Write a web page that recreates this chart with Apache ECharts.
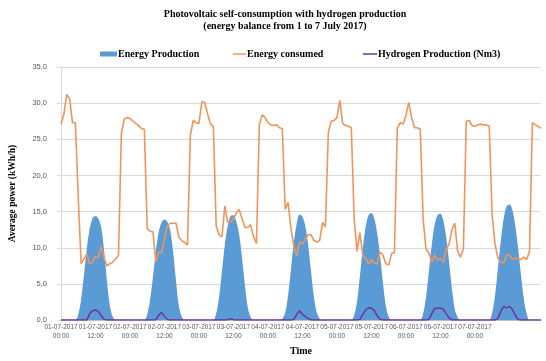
<!DOCTYPE html>
<html>
<head>
<meta charset="utf-8">
<script src="https://cdn.jsdelivr.net/npm/echarts@6/dist/echarts.min.js"></script>
<style>
html,body{margin:0;padding:0;background:#fff;}
#chart{width:546px;height:361px;}
</style>
</head>
<body>
<div id="chart"></div>
<script>
// Days and hours (hourly data, 1 to 7 July 2017)
const days = ['01-07-2017','02-07-2017','03-07-2017','04-07-2017','05-07-2017','06-07-2017','07-07-2017'];
const hours = ['00:00','01:00','02:00','03:00','04:00','05:00','06:00','07:00','08:00','09:00','10:00','11:00',
               '12:00','13:00','14:00','15:00','16:00','17:00','18:00','19:00','20:00','21:00','22:00','23:00'];

// Energy Production (kWh/h), one array per day, 24 hourly values
const prodD1 = [0,0,0,0,0,0,0.8,2.9,6.3,9.9,12.7,14.1,14.4,14.0,12.8,9.6,5.4,2.0,0.5,0,0,0,0,0];
const prodD2 = [0,0,0,0,0,0,0.8,2.8,6.0,9.6,12.2,13.5,13.9,13.6,12.4,9.5,5.5,2.0,0.5,0,0,0,0,0];
const prodD3 = [0,0,0,0,0,0,0.9,3.2,6.8,10.4,13.0,14.4,14.5,13.6,11.8,8.6,4.8,1.7,0.4,0,0,0,0,0];
const prodD4 = [0,0,0,0,0,0.2,1.0,3.4,7.0,10.7,13.3,14.6,14.3,13.0,10.3,6.7,3.2,1.0,0.2,0,0,0,0,0];
const prodD5 = [0,0,0,0,0,0,0.7,2.6,6.1,9.9,12.9,14.5,14.8,14.0,12.0,8.9,5.2,2.0,0.5,0,0,0,0,0];
const prodD6 = [0,0,0,0,0,0,0.9,3.2,6.8,10.4,13.2,14.5,14.7,13.8,11.5,8.1,4.4,1.5,0.4,0,0,0,0,0];
const prodD7 = [0,0,0,0,0,0,1.0,3.4,7.1,10.9,14.0,15.7,16.0,15.3,13.2,10.1,6.4,3.0,0.9,0,0,0,0,0];

// Energy consumed (kWh/h)
const consD1 = [27.1,28.5,31.2,30.6,27.3,27.3,17.0,7.8,8.5,9.1,7.8,8.0,8.8,8.6,10.2,8.6,7.5,7.8,8.0,8.5,8.9,25.8,27.8,28.0];
const consD2 = [27.9,27.5,27.2,26.9,26.5,26.4,12.6,12.3,12.2,8.0,9.4,9.3,11.2,13.0,13.4,13.4,13.4,11.5,11.0,10.7,10.4,25.5,27.6,27.3];
const consD3 = [27.2,30.2,30.1,28.5,27.1,26.8,13.0,11.8,11.5,15.8,13.5,13.6,14.0,14.8,15.3,14.0,12.8,12.8,13.2,11.5,10.6,27.0,28.4,28.0];
const consD4 = [27.3,27.0,26.9,27.0,26.6,26.5,15.3,16.3,12.7,10.3,8.9,10.8,10.5,11.2,11.8,11.8,11.0,10.8,11.0,13.5,12.9,25.9,27.5,27.6];
const consD5 = [28.0,30.4,27.2,26.9,26.8,26.6,14.0,9.5,12.1,8.9,8.5,7.8,8.4,7.9,7.8,9.4,9.0,7.8,7.6,9.2,9.3,26.5,27.3,27.1];
const consD6 = [28.3,30.1,28.0,26.6,26.6,26.4,13.9,9.8,9.3,8.0,9.0,8.3,8.5,8.0,9.8,10.5,12.5,13.4,9.5,8.7,9.9,27.5,27.6,26.9];
const consD7 = [26.8,27.0,27.1,27.0,27.0,26.8,14.5,10.5,8.6,8.0,7.9,9.0,9.0,8.5,8.5,8.5,8.4,8.7,8.4,9.5,27.3,27.0,26.8,26.5];

// Hydrogen Production (Nm3)
const hydD1 = [0,0,0,0,0,0,0,0,0,0,0.9,1.3,1.4,1.2,0.6,0.1,0,0,0,0,0,0,0,0];
const hydD2 = [0,0,0,0,0,0,0,0,0,0.05,0.7,1.05,0.55,0.1,0,0,0,0,0,0,0,0,0,0];
const hydD3 = [0,0,0,0,0,0,0,0,0,0,0.05,0.2,0.05,0,0,0,0,0,0,0,0,0,0,0];
const hydD4 = [0,0,0,0,0,0,0,0,0,0.1,0.8,1.3,0.8,0.5,0.2,0.05,0,0,0,0,0,0,0,0];
const hydD5 = [0,0,0,0,0,0,0,0,0.1,0.8,1.4,1.7,1.65,1.3,0.6,0.1,0,0,0,0,0,0,0,0];
const hydD6 = [0,0,0,0,0,0,0,0,0.1,0.9,1.6,1.65,1.65,1.5,0.9,0.3,0,0,0,0,0,0,0,0];
const hydD7 = [0,0,0,0,0,0,0,0,0.2,1.2,1.9,1.7,1.9,1.5,0.7,0.1,0,0,0,0,0,0,0,0];

const yTicks = [0,5,10,15,20,25,30,35];

const categories = [];
days.forEach(d => hours.forEach(h => categories.push(d + '\n' + h)));
const production = [].concat(prodD1, prodD2, prodD3, prodD4, prodD5, prodD6, prodD7);
const consumed = [].concat(consD1, consD2, consD3, consD4, consD5, consD6, consD7);
const hydrogen = [].concat(hydD1, hydD2, hydD3, hydD4, hydD5, hydD6, hydD7);

const serif = 'Liberation Serif';
const legText = {fontFamily: serif, fontWeight: 'bold', fontSize: 10, color: '#000'};

const chart = echarts.init(document.getElementById('chart'), null, {renderer: 'canvas'});
chart.setOption({
  animation: false,
  backgroundColor: '#fff',
  title: {
    text: 'Photovoltaic self-consumption with hydrogen production\n(energy balance from 1 to 7 July 2017)',
    left: 280, top: 3, textAlign: 'center',
    textStyle: {fontFamily: serif, fontWeight: 'bold', fontSize: 10, lineHeight: 12, color: '#000'}
  },
  legend: [
    {left: 95, top: 44, icon: 'rect', itemWidth: 17, itemHeight: 5, itemGap: 0,
     textStyle: Object.assign({padding: [0,0,0,-4]}, legText), data: ['Energy Production']},
    {left: 228, top: 44, icon: 'rect', itemWidth: 13, itemHeight: 1.5, itemGap: 0,
     textStyle: Object.assign({padding: [0,0,0,-4]}, legText), data: ['Energy consumed']},
    {left: 358, top: 44, icon: 'rect', itemWidth: 14, itemHeight: 1.5, itemGap: 0,
     textStyle: Object.assign({padding: [0,0,0,-4]}, legText), data: ['Hydrogen Production (Nm3)']}
  ],
  grid: {left: 52, right: 5, top: 67, bottom: 29, containLabel: false},
  xAxis: {
    type: 'category',
    data: categories,
    boundaryGap: false,
    name: 'Time',
    nameLocation: 'middle',
    nameGap: 23,
    nameTextStyle: {fontFamily: serif, fontWeight: 'bold', fontSize: 10, color: '#000'},
    axisLine: {lineStyle: {color: '#bfbfbf', width: 1}},
    axisTick: {show: false},
    axisLabel: {interval: 11, fontFamily: 'Liberation Sans', fontSize: 6.5, color: '#595959',
                lineHeight: 9, margin: 3, showMaxLabel: false},
    splitLine: {show: false}
  },
  yAxis: {
    type: 'value',
    min: yTicks[0], max: yTicks[yTicks.length - 1], interval: 5,
    name: 'Average power (kWh/h)',
    nameLocation: 'middle',
    nameGap: 43,
    nameTextStyle: {fontFamily: serif, fontWeight: 'bold', fontSize: 9.5, color: '#000'},
    axisLine: {show: true, lineStyle: {color: '#d9d9d9'}},
    axisTick: {show: true, length: 4, lineStyle: {color: '#d9d9d9'}},
    axisLabel: {fontFamily: 'Liberation Sans', fontSize: 7.5, color: '#595959', margin: 14,
                formatter: v => v.toFixed(1).replace('.', ',')},
    splitLine: {lineStyle: {color: '#d9d9d9', width: 1}}
  },
  series: [
    {name: 'Energy Production', type: 'line', data: production, smooth: 0.35, symbol: 'none',
     itemStyle: {color: '#5B9BD5'}, lineStyle: {width: 0}, areaStyle: {color: '#5B9BD5', opacity: 1}, z: 1},
    {name: 'Energy consumed', type: 'line', data: consumed, symbol: 'none',
     itemStyle: {color: '#F09A5E'}, lineStyle: {color: '#EF955A', width: 1.6}, z: 3},
    {name: 'Hydrogen Production (Nm3)', type: 'line', data: hydrogen, symbol: 'none',
     itemStyle: {color: '#7030A0'}, lineStyle: {color: '#7030A0', width: 1.5}, z: 4}
  ]
});
</script>
</body>
</html>
